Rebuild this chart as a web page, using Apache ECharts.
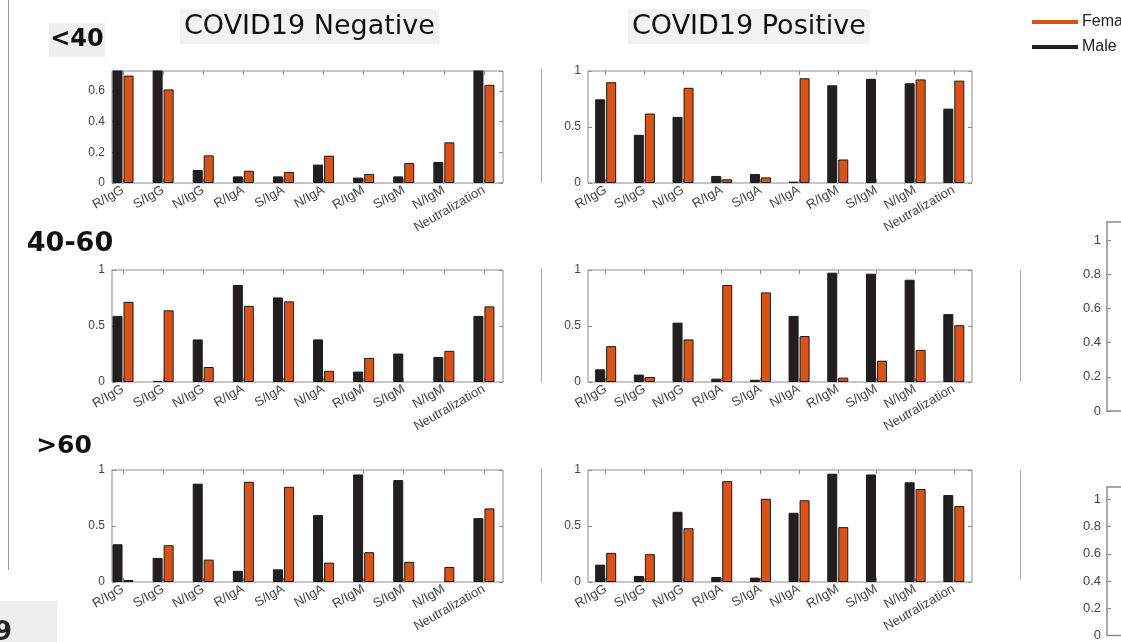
<!DOCTYPE html>
<html>
<head>
    <meta charset="utf-8" />
    <title>Antibody response by age and sex</title>
    <script src="https://cdn.jsdelivr.net/npm/echarts@6/dist/echarts.min.js"></script>
    <style>
        html, body { margin: 0; padding: 0; background: #fff; }
        #main { width: 1121px; height: 642px; }
    </style>
</head>
<body>
    <div id="main"></div>
<script>
    // categories (shared by every panel)
    var cats = ['R/IgG', 'S/IgG', 'N/IgG', 'R/IgA', 'S/IgA', 'N/IgA', 'R/IgM', 'S/IgM', 'N/IgM', 'Neutralization'];

    // <40
    var negYoungMale   = [0.78, 0.77, 0.085, 0.043, 0.043, 0.12, 0.035, 0.043, 0.137, 0.78];
    var negYoungFemale = [0.70, 0.61, 0.18, 0.08, 0.072, 0.178, 0.059, 0.13, 0.265, 0.64];
    var posYoungMale   = [0.747, 0.43, 0.59, 0.063, 0.08, 0.012, 0.872, 0.93, 0.89, 0.664];
    var posYoungFemale = [0.90, 0.62, 0.85, 0.033, 0.05, 0.935, 0.21, 0, 0.925, 0.914];
    // 40-60
    var negMidMale     = [0.59, 0.01, 0.38, 0.866, 0.755, 0.38, 0.093, 0.254, 0.224, 0.59];
    var negMidFemale   = [0.716, 0.64, 0.134, 0.68, 0.72, 0.10, 0.215, 0, 0.278, 0.675];
    var posMidMale     = [0.113, 0.066, 0.53, 0.03, 0.02, 0.59, 0.976, 0.967, 0.913, 0.606];
    var posMidFemale   = [0.32, 0.045, 0.38, 0.866, 0.80, 0.41, 0.039, 0.19, 0.287, 0.507];
    // >60
    var negOldMale     = [0.337, 0.215, 0.878, 0.10, 0.113, 0.597, 0.96, 0.91, 0, 0.57];
    var negOldFemale   = [0.018, 0.328, 0.20, 0.895, 0.85, 0.173, 0.266, 0.18, 0.134, 0.657];
    var posOldMale     = [0.155, 0.054, 0.627, 0.045, 0.039, 0.618, 0.967, 0.96, 0.89, 0.776];
    var posOldFemale   = [0.26, 0.248, 0.48, 0.90, 0.743, 0.73, 0.49, 0, 0.83, 0.678];

    // y axis tops and steps per panel
    var yMax  = [0.73, 1, 1, 1, 1, 1];
    var yStep = [0.2, 0.5, 0.5, 0.5, 0.5, 0.5];
    // partial panels cut off at the right edge
    var sideMax  = [1.105, 1.09];
    var sideStep = 0.2;

    var colMale = '#231f20', colFemale = '#d95319';
    var frame = '#8c8c8c', labCol = '#444';

    var panels = [
        { male: negYoungMale, female: negYoungFemale, col: 0, row: 0 },
        { male: posYoungMale, female: posYoungFemale, col: 1, row: 0 },
        { male: negMidMale,   female: negMidFemale,   col: 0, row: 1 },
        { male: posMidMale,   female: posMidFemale,   col: 1, row: 1 },
        { male: negOldMale,   female: negOldFemale,   col: 0, row: 2 },
        { male: posOldMale,   female: posOldFemale,   col: 1, row: 2 }
    ];
    var rowTop = [71, 270, 470];
    var colBox = [
        { left: 112, width: 391, min: 0.725, max: 10.475 },
        { left: 588, width: 384, min: 0.543, max: 10.47 }
    ];
    var pos = cats.map(function (c, i) { return i + 1; });

    var grid = [], xAxis = [], yAxis = [], series = [];
    var tick = { show: true, inside: true, length: 4, lineStyle: { color: frame } };

    panels.forEach(function (p, k) {
        var cb = colBox[p.col];
        grid.push({ left: cb.left, top: rowTop[p.row], width: cb.width, height: 112,
            show: true, borderColor: frame, borderWidth: 1, backgroundColor: 'transparent' });
        // bottom axis with labels
        xAxis.push({
            type: 'value', gridIndex: k, min: cb.min, max: cb.max, position: 'bottom',
            axisLine: { show: false, onZero: false }, splitLine: { show: false },
            axisTick: Object.assign({ customValues: pos }, tick),
            axisLabel: {
                customValues: pos, rotate: 30, margin: 6,
                color: labCol, fontSize: 13, fontFamily: 'Liberation Sans',
                formatter: function (v) { return cats[Math.round(v) - 1]; }
            }
        });
        // top axis, ticks only
        xAxis.push({
            type: 'value', gridIndex: k, min: cb.min, max: cb.max, position: 'top',
            axisLine: { show: false, onZero: false }, splitLine: { show: false }, axisLabel: { show: false },
            axisTick: Object.assign({ customValues: pos }, tick)
        });
        yAxis.push({
            type: 'value', gridIndex: k, min: 0, max: yMax[k], interval: yStep[k], position: 'left',
            axisLine: { show: false, onZero: false }, splitLine: { show: false },
            axisTick: tick,
            axisLabel: { color: labCol, fontSize: 12, fontFamily: 'Liberation Sans', margin: 7,
                showMaxLabel: yMax[k] === 1 }
        });
        yAxis.push({
            type: 'value', gridIndex: k, min: 0, max: yMax[k], interval: yStep[k], position: 'right',
            axisLine: { show: false, onZero: false }, splitLine: { show: false }, axisLabel: { show: false },
            axisTick: tick
        });
        [['Male', p.male, colMale], ['Female', p.female, colFemale]].forEach(function (s) {
            series.push({
                name: s[0], type: 'bar', xAxisIndex: 2 * k, yAxisIndex: 2 * k,
                barWidth: 10, barGap: '10%', clip: true,
                itemStyle: { color: s[2], borderColor: '#1a1a1a', borderWidth: 1 },
                data: s[1].map(function (v, i) {
                    return v > 0 ? [pos[i], v] : { value: [pos[i], v], itemStyle: { borderWidth: 0 } };
                })
            });
        });
    });

    // partial panels on the right edge
    [{ top: 222, height: 189 }, { top: 487, height: 191 }].forEach(function (g, j) {
        var gi = grid.length;
        grid.push({ left: 1107, top: g.top, width: 300, height: g.height,
            show: true, borderColor: frame, borderWidth: 1.5, backgroundColor: 'transparent' });
        xAxis.push({ type: 'value', gridIndex: gi, min: 0, max: 1, show: false });
        yAxis.push({
            type: 'value', gridIndex: gi, min: 0, max: sideMax[j], interval: sideStep,
            axisLine: { show: false, onZero: false }, splitLine: { show: false },
            axisTick: tick,
            axisLabel: { color: labCol, fontSize: 13, fontFamily: 'Liberation Sans', margin: 6, showMaxLabel: false }
        });
    });

    var titleFont = { fontFamily: 'DejaVu Sans', fontSize: 27, fontWeight: 'normal', color: '#111', lineHeight: 31 };

    var option = {
        backgroundColor: '#fff',
        animation: false,
        title: [
            { text: 'COVID19 Negative', left: 180, top: 9, padding: [2, 4], backgroundColor: '#f2f2f2', textStyle: titleFont },
            { text: 'COVID19 Positive', left: 628, top: 9, padding: [2, 4], backgroundColor: '#f2f2f2', textStyle: titleFont }
        ],
        legend: {
            data: ['Female', 'Male'], orient: 'vertical', left: 1032, top: 14, itemGap: 9,
            icon: 'rect', itemWidth: 46, itemHeight: 4, padding: 0,
            itemStyle: { borderWidth: 0 },
            textStyle: { fontSize: 16, color: '#222', fontFamily: 'Liberation Sans', padding: [0, 0, 0, -1] }
        },
        grid: grid,
        xAxis: xAxis,
        yAxis: yAxis,
        series: series,
        graphic: [
            { type: 'line', shape: { x1: 8.5, y1: 0, x2: 8.5, y2: 570 }, style: { stroke: '#999', lineWidth: 1 } },
            { type: 'line', shape: { x1: 541.5, y1: 69, x2: 541.5, y2: 183 }, style: { stroke: '#aaa', lineWidth: 1 } },
            { type: 'line', shape: { x1: 541.5, y1: 268, x2: 541.5, y2: 382 }, style: { stroke: '#aaa', lineWidth: 1 } },
            { type: 'line', shape: { x1: 541.5, y1: 468, x2: 541.5, y2: 582 }, style: { stroke: '#aaa', lineWidth: 1 } },
            { type: 'line', shape: { x1: 1020.5, y1: 270, x2: 1020.5, y2: 382 }, style: { stroke: '#aaa', lineWidth: 1 } },
            { type: 'line', shape: { x1: 1020.5, y1: 470, x2: 1020.5, y2: 580 }, style: { stroke: '#aaa', lineWidth: 1 } },
            { type: 'rect', shape: { x: 49, y: 23, width: 56, height: 34 }, style: { fill: '#efefef' } },
            { type: 'text', x: 77, y: 40, style: { text: '<40', font: 'bold 24px "DejaVu Sans"', fill: '#111', align: 'center', verticalAlign: 'middle' } },
            { type: 'text', x: 70, y: 244, style: { text: '40-60', font: 'bold 27px "DejaVu Sans"', fill: '#111', align: 'center', verticalAlign: 'middle' } },
            { type: 'text', x: 64, y: 446, style: { text: '>60', font: 'bold 25px "DejaVu Sans"', fill: '#111', align: 'center', verticalAlign: 'middle' } },
            { type: 'rect', shape: { x: 0, y: 601, width: 57, height: 41 }, style: { fill: '#eeeeee' } },
            { type: 'text', x: -6, y: 620, style: { text: '9', font: 'bold 26px "DejaVu Sans"', fill: '#222' } }
        ]
    };

    var myChart = echarts.init(document.getElementById('main'));
    myChart.setOption(option);
</script>
</body>
</html>
